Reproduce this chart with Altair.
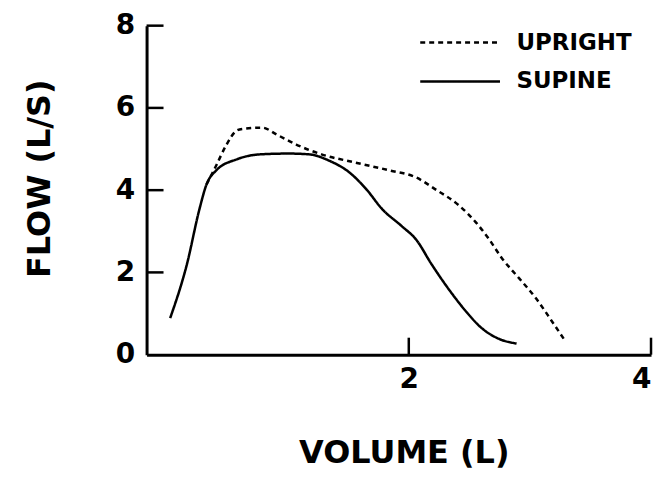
import altair as alt
import pandas as pd

series_names = ["UPRIGHT", "SUPINE"]

upright_volume = [0.33, 0.41, 0.49, 0.58, 0.63, 0.79, 0.91, 1.07, 1.28, 1.56, 1.84,
                  2.06, 2.22, 2.41, 2.55, 2.66, 2.77, 2.91, 3.05, 3.18, 3.29]
upright_flow = [4.14, 4.60, 5.08, 5.45, 5.49, 5.52, 5.35, 5.11, 4.87, 4.67, 4.48,
                4.31, 4.02, 3.64, 3.23, 2.82, 2.34, 1.86, 1.37, 0.82, 0.34]

supine_volume = [0.03, 0.17, 0.27, 0.33, 0.41, 0.58, 0.77, 1.01, 1.18, 1.34, 1.51,
                 1.65, 1.78, 1.94, 2.06, 2.19, 2.33, 2.47, 2.60, 2.74, 2.89]
supine_flow = [0.89, 2.22, 3.52, 4.14, 4.48, 4.75, 4.87, 4.89, 4.87, 4.72, 4.43,
               4.02, 3.54, 3.13, 2.80, 2.19, 1.59, 1.06, 0.65, 0.39, 0.27]

y_tick_values = [0, 2, 4, 6, 8]
y_inner_ticks = [2, 4, 6, 8]
x_tick_values = [2, 4]

df = pd.concat([
    pd.DataFrame({"volume": upright_volume, "flow": upright_flow, "series": series_names[0]}),
    pd.DataFrame({"volume": supine_volume, "flow": supine_flow, "series": series_names[1]}),
])

FONT = "DejaVu Sans"
x_scale = alt.Scale(domain=[-0.165, 4.0], nice=False, zero=False)
y_scale = alt.Scale(domain=[0, 8], nice=False, zero=False)

x_axis = alt.Axis(values=x_tick_values, title="VOLUME (L)", ticks=False, grid=False,
                  labelPadding=11, domainWidth=3, domainColor="black",
                  labelFont=FONT, labelFontSize=28, labelFontWeight="bold", labelColor="black",
                  titleFont=FONT, titleFontSize=32, titleFontWeight="bold", titleColor="black",
                  titleX=258, titleY=108, titleBaseline="alphabetic", titleAlign="center")
y_axis = alt.Axis(values=y_tick_values, title="FLOW (L/S)", ticks=False, grid=False,
                  labelPadding=12, domainWidth=3, domainColor="black",
                  labelFont=FONT, labelFontSize=28, labelFontWeight="bold", labelColor="black",
                  titleFont=FONT, titleFontSize=32, titleFontWeight="bold", titleColor="black",
                  titleAngle=270, titleX=-97, titleY=153, titleBaseline="alphabetic",
                  titleAlign="center")

lines = alt.Chart(df).mark_line(color="black", strokeWidth=2.5, interpolate="monotone").encode(
    x=alt.X("volume:Q", scale=x_scale, axis=x_axis, title="VOLUME (L)"),
    y=alt.Y("flow:Q", scale=y_scale, axis=y_axis, title="FLOW (L/S)"),
    strokeDash=alt.StrokeDash("series:N",
                              scale=alt.Scale(domain=series_names, range=[[5, 4], [1, 0]]),
                              legend=alt.Legend(orient="none", legendX=273, legendY=7, title=None,
                                                symbolType="stroke", symbolSize=6400,
                                                symbolStrokeWidth=2.5, symbolStrokeColor="black",
                                                clipHeight=20, rowPadding=16, padding=0,
                                                labelFont=FONT, labelFontSize=23, labelFontWeight="bold",
                                                labelColor="black", labelOffset=15)),
)

ytick_df = pd.DataFrame({"v": y_inner_ticks})
xtick_df = pd.DataFrame({"v": x_tick_values})

yticks = alt.Chart(ytick_df).mark_rule(color="black", strokeWidth=2.5).encode(
    y=alt.Y("v:Q", scale=y_scale, axis=y_axis, title="FLOW (L/S)"),
    x=alt.value(0), x2=alt.value(17),
)
xticks = alt.Chart(xtick_df).mark_rule(color="black", strokeWidth=2.5).encode(
    x=alt.X("v:Q", scale=x_scale, axis=x_axis, title="VOLUME (L)"),
    y=alt.value(330), y2=alt.value(313),
)

chart = alt.layer(lines, yticks, xticks).properties(
    width=506, height=330,
    autosize=alt.AutoSizeParams(type="none"),
    padding={"left": 139, "top": 17, "right": 5, "bottom": 120},
    background="white",
).configure_view(stroke=None)

chart.save("out.html", embed_options={"renderer": "svg", "actions": False})
